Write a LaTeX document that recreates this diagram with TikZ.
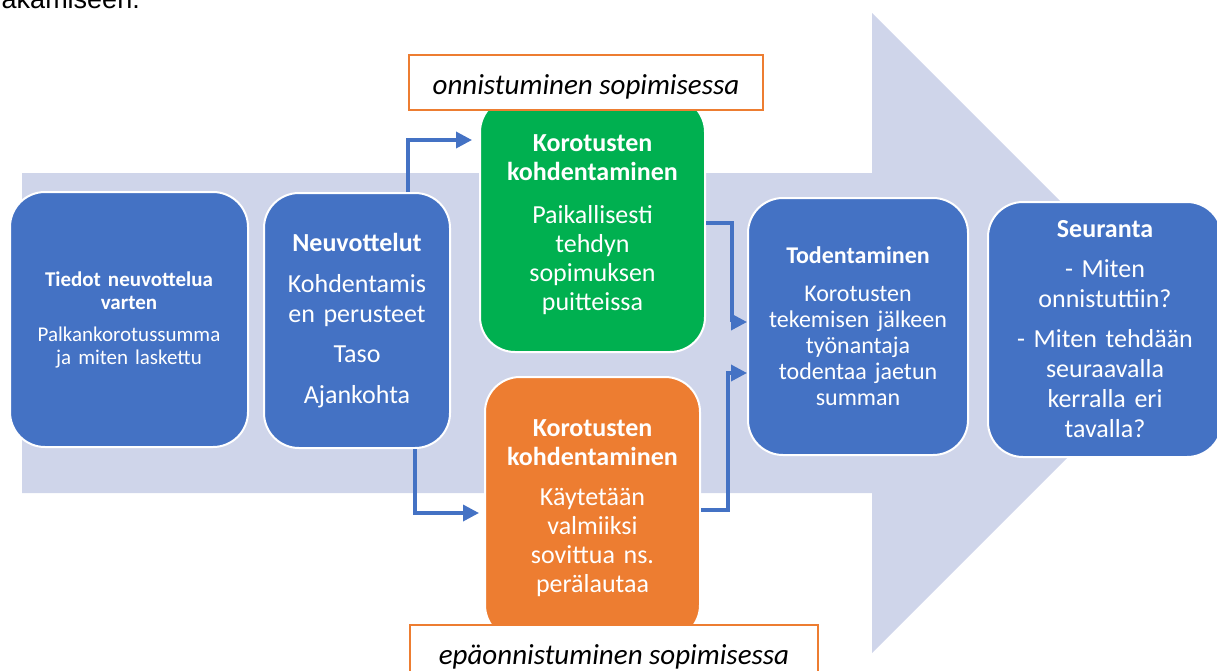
\documentclass[tikz,border=0pt]{standalone}
\usepackage{fontspec}
\setmainfont{Carlito}
\newfontfamily\arialfont{Liberation Sans}
\usetikzlibrary{arrows.meta}
\definecolor{bandblue}{HTML}{CFD5EA}
\definecolor{boxblue}{HTML}{4472C4}
\definecolor{boxgreen}{HTML}{00B050}
\definecolor{boxorange}{HTML}{ED7D31}
\begin{document}
\begin{tikzpicture}[x=1pt,y=-1pt,
	box/.style={draw=white,line width=2pt,rounded corners=35pt,text=white,align=center,inner sep=0pt},
	conn/.style={draw=boxblue,line width=3.5pt,-{Triangle[length=16pt,width=16pt]}},
	tag/.style={draw=boxorange,line width=2pt,fill=white,minimum height=55pt,text height=23pt,text depth=0pt,font=\fontsize{29}{33}\selectfont\itshape}]
	\useasboundingbox (0,0) rectangle (1217,670);
	% big background arrow
	\fill[bandblue] (22,173)--(872,173)--(872,13)--(1192,333)--(872,653)--(872,493)--(22,493)--cycle;
	\node (frag) at (140,8) [anchor=base east,inner sep=0pt,font=\fontsize{27}{30}\selectfont\arialfont]{akamiseen.};
	% steps
	\node (tiedot) at (129,319.5) [box,fill=boxblue,minimum width=238pt,minimum height=255pt,text width=228pt,font=\fontsize{21}{23}\selectfont]{\bfseries Tiedot neuvottelua\\ varten\\[9pt] \mdseries Palkankorotussumma\\ ja miten laskettu};
	\node (neuv) at (357,320.5) [box,fill=boxblue,minimum width=186pt,minimum height=255pt,text width=176pt,font=\fontsize{26}{30}\selectfont]{\bfseries Neuvottelut\\[11pt] \mdseries Kohdentamis\\ en perusteet\\[10pt] Taso\\[11pt] Ajankohta};
	\node (green) at (592.5,224.5) [box,fill=boxgreen,minimum width=225pt,minimum height=255pt,text width=215pt,font=\fontsize{26}{29}\selectfont]{\bfseries Korotusten\\ kohdentaminen\\[14pt] \mdseries Paikallisesti\\ tehdyn\\ sopimuksen\\ puitteissa};
	\node (orange) at (592.5,508.5) [box,fill=boxorange,minimum width=215pt,minimum height=263pt,text width=205pt,font=\fontsize{26}{29}\selectfont]{\bfseries Korotusten\\ kohdentaminen\\[11pt] \mdseries Käytetään\\ valmiiksi\\ sovittua ns.\\ perälautaa};
	\node (tod) at (858,326.5) [box,fill=boxblue,minimum width=220pt,minimum height=257pt,text width=210pt,font=\fontsize{24}{26}\selectfont]{\bfseries Todentaminen\\[12pt] \mdseries Korotusten\\ tekemisen jälkeen\\ työnantaja\\ todentaa jaetun\\ summan};
	\node (seur) at (1105,329.5) [box,fill=boxblue,minimum width=234pt,minimum height=255pt,text width=224pt,font=\fontsize{26}{30}\selectfont]{\bfseries Seuranta\\[10pt] \mdseries - Miten\\ onnistuttiin?\\[10pt] - Miten tehdään\\ seuraavalla\\ kerralla eri\\ tavalla?};
	% connectors
	\draw[conn] ([xshift=51pt]neuv.north) |- ([xshift=-7pt,yshift=84.5pt]green.west);
	\draw[conn] ([xshift=58pt]neuv.south) |- ([xshift=-5pt,yshift=-4.5pt]orange.west);
	\draw[conn] ([yshift=1.5pt]green.east) -- ++(26,0) |- ([yshift=4.5pt]tod.west);
	\draw[conn] ([yshift=-1.5pt]orange.east) -- ++(27,0) |- ([yshift=-46.5pt]tod.west);
	% outcome tags
	\node (ok) at (586,82.5) [tag,minimum width=354pt]{onnistuminen sopimisessa};
	\node (fail) at (614,652.5) [tag,minimum width=408pt]{epäonnistuminen sopimisessa};
\end{tikzpicture}
\end{document}
